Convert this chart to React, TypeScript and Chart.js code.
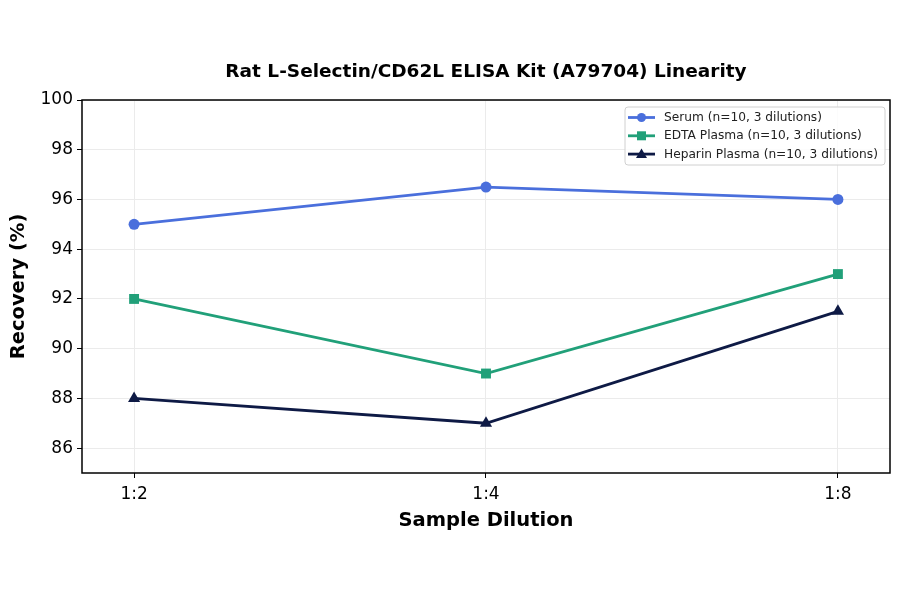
import { useEffect, useRef } from 'react'
import { Chart, registerables, Plugin } from 'chart.js'

Chart.register(...registerables)

const dilutions = ['1:2', '1:4', '1:8']
const serum = [95, 96.5, 96]
const edta = [92, 89, 93]
const heparin = [88, 87, 91.5]
const yTicks = [86, 88, 90, 92, 94, 96, 98, 100]

const seriesNames = [
  'Serum (n=10, 3 dilutions)',
  'EDTA Plasma (n=10, 3 dilutions)',
  'Heparin Plasma (n=10, 3 dilutions)',
]
const chartTitle = 'Rat L-Selectin/CD62L ELISA Kit (A79704) Linearity'
const colors = ['#4a6fdc', '#21a079', '#0e1a45']
const markers = ['circle', 'rect', 'triangle'] as const

const FONT = '"DejaVu Sans", sans-serif'

// title centred on the plot, frame around it and an inside legend like matplotlib's
const framePlugin: Plugin = {
  id: 'frame',
  afterDraw(chart) {
    const { ctx, chartArea: a } = chart
    ctx.save()
    ctx.fillStyle = '#000'
    ctx.font = `bold 18.5px ${FONT}`
    ctx.textAlign = 'center'
    ctx.textBaseline = 'middle'
    ctx.fillText(chartTitle, (a.left + a.right) / 2, 72)
    ctx.textAlign = 'left'

    ctx.strokeStyle = '#000'
    ctx.lineWidth = 1.5
    ctx.strokeRect(a.left, a.top, a.right - a.left, a.bottom - a.top)

    // legend
    const w = 260
    const h = 58
    const x = a.right - w - 5
    const y = a.top + 7
    ctx.fillStyle = 'rgba(255,255,255,0.85)'
    ctx.strokeStyle = '#d0d0d0'
    ctx.lineWidth = 1
    ctx.beginPath()
    ctx.roundRect(x, y, w, h, 3)
    ctx.fill()
    ctx.stroke()
    ctx.font = `12.2px ${FONT}`
    ctx.textBaseline = 'middle'
    seriesNames.forEach((name, i) => {
      const cy = y + 10.5 + i * 18.3
      ctx.strokeStyle = colors[i]
      ctx.fillStyle = colors[i]
      ctx.lineWidth = 2.8
      ctx.beginPath()
      ctx.moveTo(x + 3, cy)
      ctx.lineTo(x + 30, cy)
      ctx.stroke()
      const mx = x + 16.5
      ctx.beginPath()
      if (markers[i] === 'circle') {
        ctx.arc(mx, cy, 4.5, 0, Math.PI * 2)
      } else if (markers[i] === 'rect') {
        ctx.rect(mx - 4.5, cy - 4.5, 9, 9)
      } else {
        ctx.moveTo(mx, cy - 5.5)
        ctx.lineTo(mx + 5.5, cy + 4)
        ctx.lineTo(mx - 5.5, cy + 4)
        ctx.closePath()
      }
      ctx.fill()
      ctx.fillStyle = '#222'
      ctx.fillText(name, x + 39, cy + 0.5)
    })
    ctx.restore()
  },
}

export default function App() {
  const chartRef = useRef<HTMLCanvasElement>(null)

  useEffect(() => {
    if (!chartRef.current) return
    const ctx = chartRef.current.getContext('2d')
    if (!ctx) return

    const all = [serum, edta, heparin]
    const chart = new Chart(ctx, {
      type: 'line',
      data: {
        datasets: all.map((vals, i) => ({
          label: seriesNames[i],
          data: vals.map((v, j) => ({ x: j, y: v })),
          borderColor: colors[i],
          backgroundColor: colors[i],
          borderWidth: 2.8,
          pointStyle: markers[i],
          pointRadius: markers[i] === 'circle' ? 5.5 : 7,
          pointBorderWidth: 0,
          tension: 0,
        })),
      },
      options: {
        animation: false,
        responsive: false,
        devicePixelRatio: 1,
        layout: { padding: { left: 0, right: 10, top: 100, bottom: 0 } },
        plugins: {
          legend: { display: false },
          tooltip: { enabled: false },
          title: { display: false },
        },
        scales: {
          x: {
            type: 'linear',
            min: -0.148,
            max: 2.148,
            afterBuildTicks: (axis) => {
              axis.ticks = dilutions.map((_, i) => ({ value: i }))
            },
            afterFit: (axis) => {
              axis.height = 121
            },
            ticks: {
              color: '#000',
              font: { family: FONT, size: 17 },
              padding: 6,
              callback: (v) => dilutions[Number(v)] ?? '',
            },
            grid: {
              color: '#ebebeb',
              tickColor: '#000',
              tickLength: 5,
              lineWidth: 1,
            },
            border: { display: false },
            title: {
              display: true,
              text: 'Sample Dilution',
              color: '#000',
              font: { family: FONT, size: 19.5, weight: 'bold' },
              padding: { top: 6, bottom: 61 },
            },
          },
          y: {
            min: 85,
            max: 100,
            afterBuildTicks: (axis) => {
              axis.ticks = yTicks.map((v) => ({ value: v }))
            },
            afterFit: (axis) => {
              axis.width = 82
            },
            ticks: {
              color: '#000',
              font: { family: FONT, size: 17 },
              padding: 4,
            },
            grid: {
              color: '#ebebeb',
              tickColor: '#000',
              tickLength: 5,
              lineWidth: 1,
            },
            border: { display: false },
            title: {
              display: true,
              text: 'Recovery (%)',
              color: '#000',
              font: { family: FONT, size: 19.5, weight: 'bold' },
              padding: { top: 7, bottom: 6 },
            },
          },
        },
      },
      plugins: [framePlugin],
    })

    return () => {
      chart.destroy()
    }
  }, [])

  return (
    <div style={{ position: 'fixed', left: 0, top: 0, width: 900, height: 594, background: '#fff' }}>
      <canvas ref={chartRef} width={900} height={594} />
    </div>
  )
}
